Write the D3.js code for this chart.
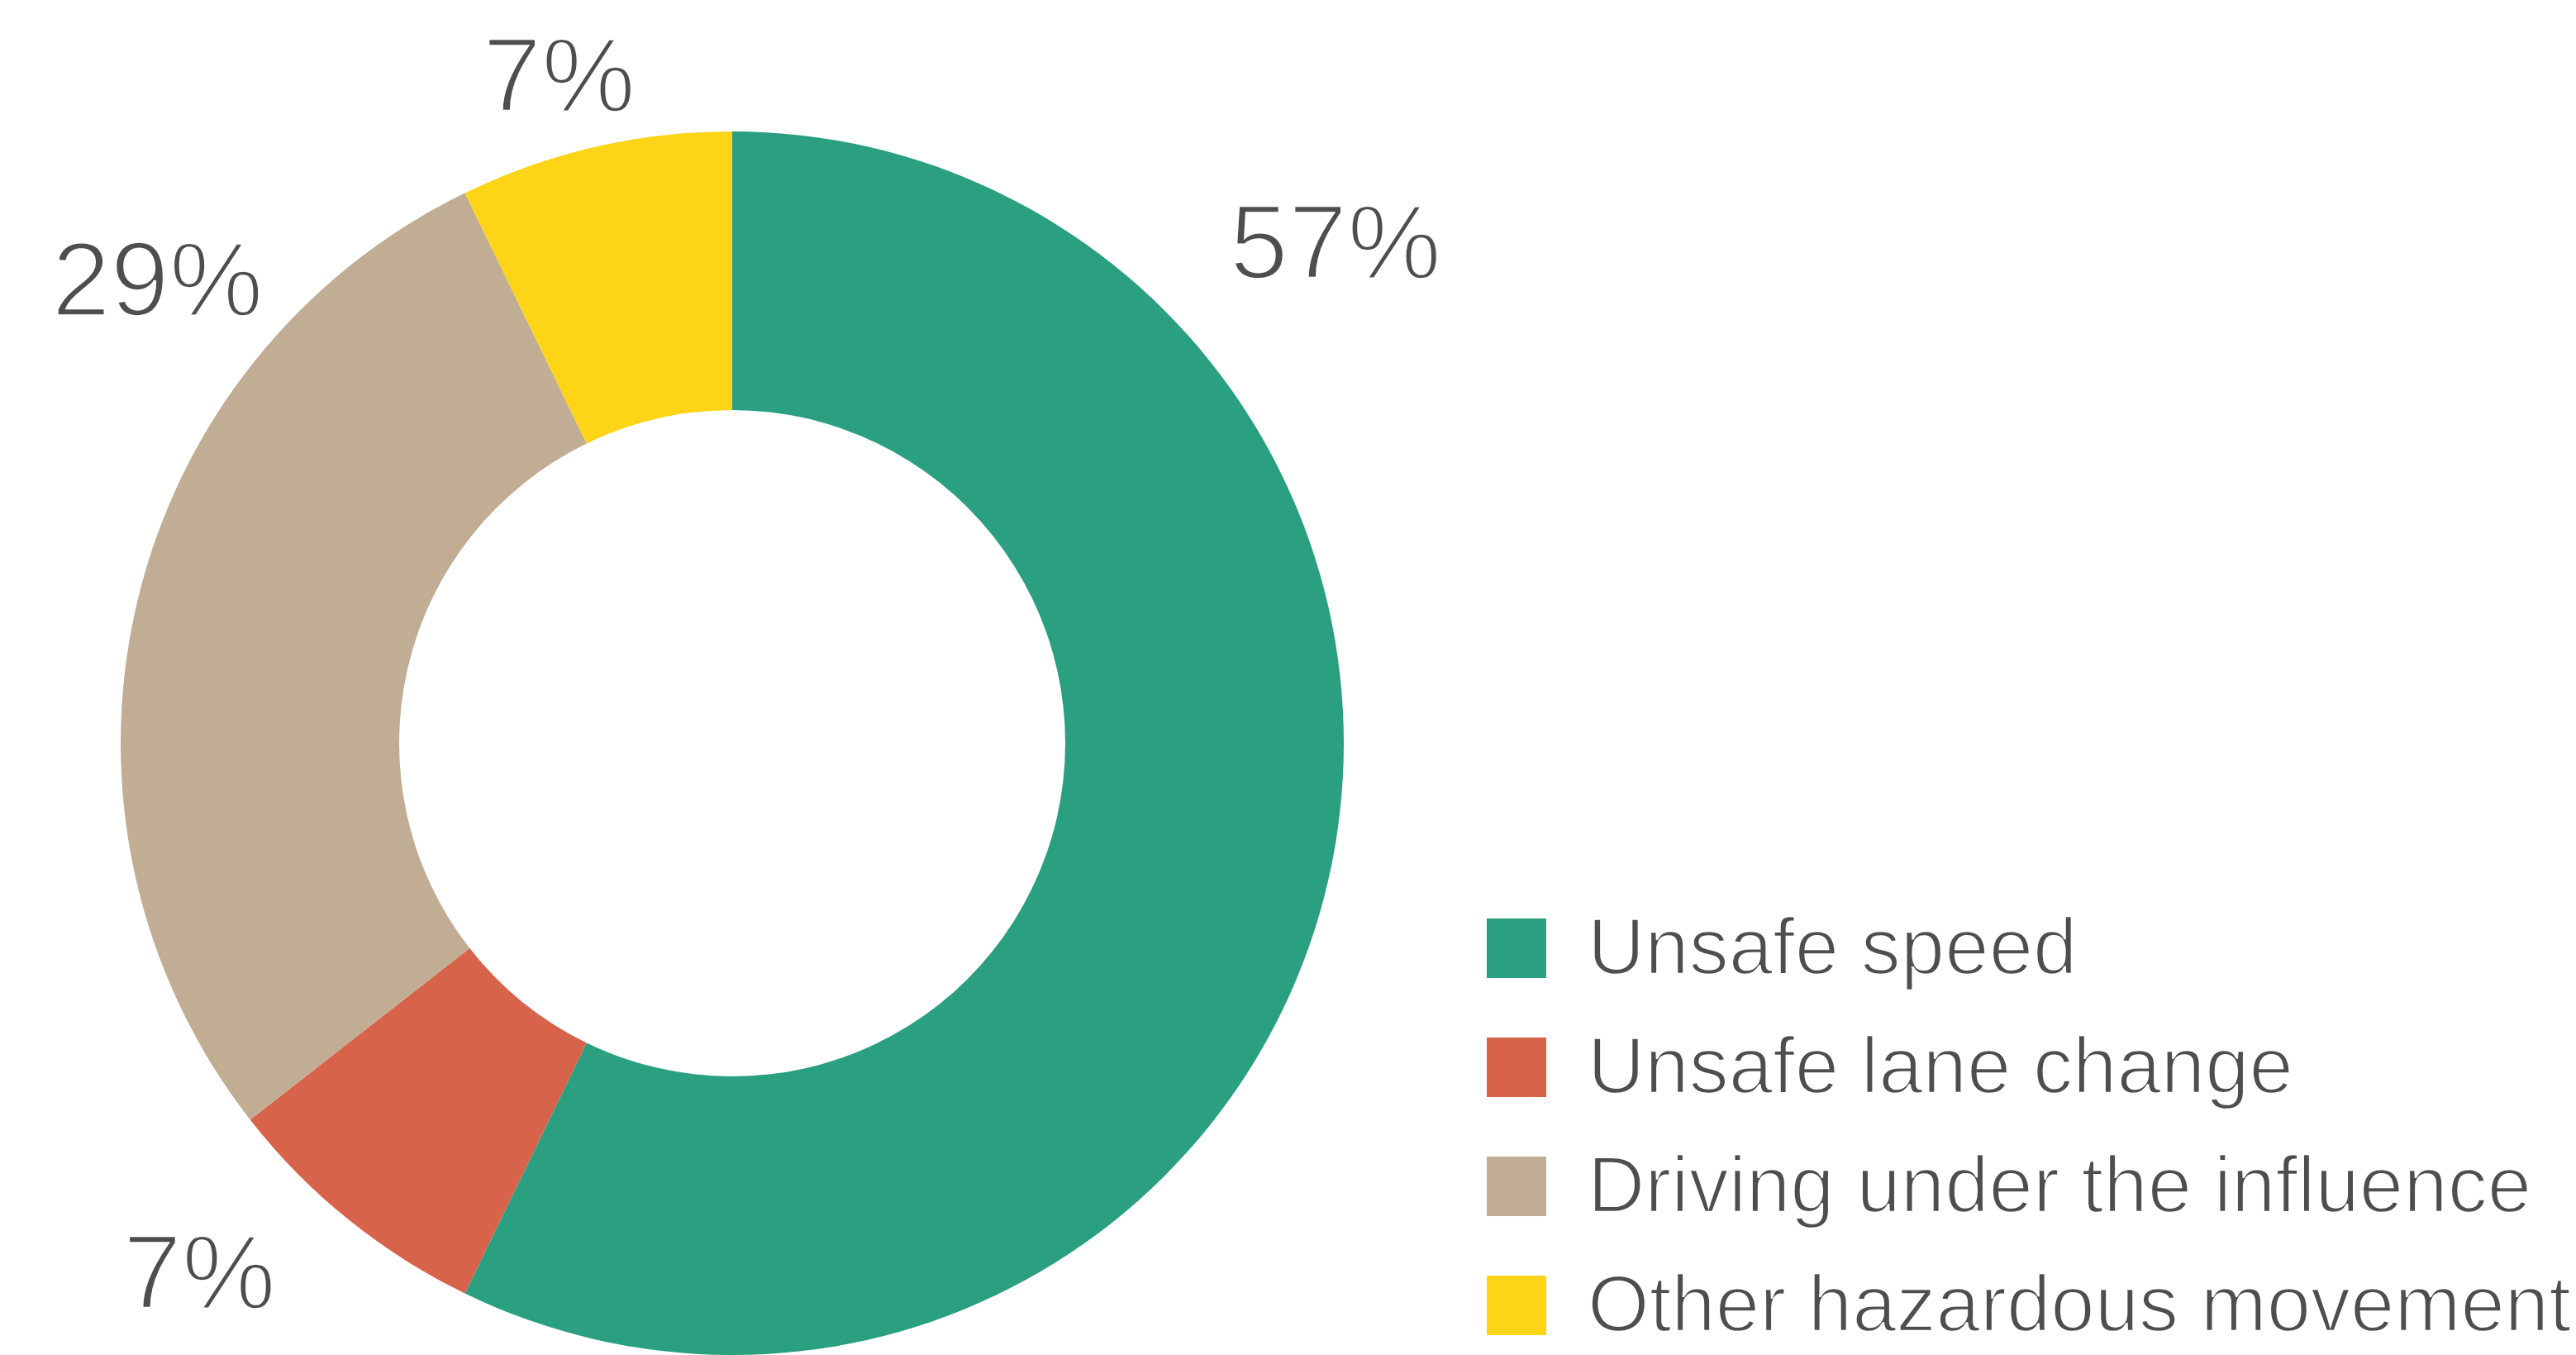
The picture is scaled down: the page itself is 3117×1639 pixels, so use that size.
<!DOCTYPE html>
<html>
<head>
<meta charset="utf-8">
<script src="https://cdn.jsdelivr.net/npm/d3@7"></script>
<style>
  body { margin: 0; background: #fff; }
  text { font-family: "Liberation Sans", Arial, sans-serif; fill: #4d4e50; stroke: #fff; }
</style>
</head>
<body>
<div id="chart"></div>
<script>
// data
const categories = ["Unsafe speed", "Unsafe lane change", "Driving under the influence", "Other hazardous movement"];
const shares = [57.2, 7.25, 28.35, 7.2];
const shareLabels = ["57%", "7%", "29%", "7%"];
const colors = ["#2aa080", "#d6634a", "#c1ad93", "#fdd416"];

// where the % labels sit (angle clockwise from top, distance from centre)
const labelAngles = [50.2, 225.3, 309.0, 345.5];
const labelRadii = [950, 907, 895, 837];

const width = 3117, height = 1639;
const cx = 886, cy = 899;
const outerR = 740, innerR = 403;

const svg = d3.select("#chart")
  .append("svg")
    .attr("width", width)
    .attr("height", height);

const pie = d3.pie().sort(null).value(d => d);
const arc = d3.arc().innerRadius(innerR).outerRadius(outerR);

const donut = svg.append("g")
  .attr("transform", "translate(" + cx + "," + cy + ")");

donut.selectAll("path")
  .data(pie(shares))
  .enter().append("path")
    .attr("d", arc)
    .attr("fill", (d, i) => colors[i]);

// percentage labels (white stroke on top thins the glyphs a bit)
donut.selectAll(".pct")
  .data(shareLabels)
  .enter().append("text")
    .attr("class", "pct")
    .attr("x", (d, i) => d3.pointRadial(labelAngles[i] * Math.PI / 180, labelRadii[i])[0])
    .attr("y", (d, i) => d3.pointRadial(labelAngles[i] * Math.PI / 180, labelRadii[i])[1] + 46)
    .attr("text-anchor", "middle")
    .style("font-size", "128px")
    .style("stroke-width", "3.5px")
    .text(d => d);

// legend
const rowY = d3.scaleBand()
  .domain(categories)
  .range([1111, 1111 + 144 * 4])
  .paddingInner(0);

const legend = svg.append("g")
  .attr("class", "legend");

const rows = legend.selectAll("g")
  .data(categories)
  .enter().append("g")
    .attr("transform", d => "translate(1799," + rowY(d) + ")");

rows.append("rect")
  .attr("width", 72)
  .attr("height", 72)
  .attr("fill", (d, i) => colors[i]);

rows.append("text")
  .attr("x", 122)
  .attr("y", 67)
  .style("font-size", "96px")
  .style("stroke-width", "2.5px")
  .text(d => d);
</script>
</body>
</html>
